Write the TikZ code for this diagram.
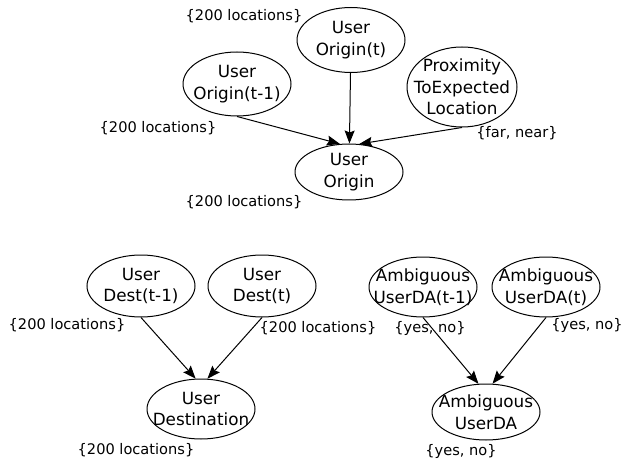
\documentclass[tikz,border=0pt]{standalone}
\usepackage{fontspec}
\setmainfont{DejaVu Sans}
\usetikzlibrary{shapes.geometric, arrows.meta}

\begin{document}
\begin{tikzpicture}[x=1pt, y=-1pt,
    var/.style={ellipse, draw, line width=1pt, inner sep=0pt, minimum width=108pt, minimum height=62pt},
    every label/.style={align=center, inner sep=0pt, font=\fontsize{16.8}{21.5}\selectfont},
    dom/.style={inner sep=0pt, font=\fontsize{14.6}{16}\selectfont},
    dep/.style={line width=1pt, -{Stealth[length=13pt, width=10pt, inset=2pt]}}]
  \useasboundingbox (0, 0) rectangle (623, 462);

  % user origin
  \node[var, minimum height=65pt, label=center:{User\\Origin(t)}] (ot) at (351, 40) {};
  \node[var, minimum height=64pt, label=center:{User\\Origin(t-1)}] (otm) at (237, 84) {};
  \node[var, minimum width=110pt, minimum height=80pt, label=center:{Proximity\\ToExpected\\Location}] (prox) at (462, 87) {};
  \node[var, minimum height=56pt, label=center:{User\\Origin}] (o) at (349, 172) {};
  \node[dom] (otd) at (244, 16) {\{200 locations\}};
  \node[dom] (otmd) at (158, 128) {\{200 locations\}};
  \node[dom] (proxd) at (517, 133) {\{far, near\}};
  \node[dom] (od) at (244, 202) {\{200 locations\}};
  \draw[dep] (ot) -- (o);
  \draw[dep] (otm.south) -- (o.108);
  \draw[dep] (prox.south) -- (o.70);

  % user destination
  \node[var, label=center:{User\\Dest(t-1)}] (dtm) at (141, 286) {};
  \node[var, label=center:{User\\Dest(t)}] (dt) at (262, 286) {};
  \node[var, minimum height=60pt, label=center:{User\\Destination}] (d) at (201, 409) {};
  \node[dom] (dtmd) at (67, 325) {\{200 locations\}};
  \node[dom] (dtd) at (318, 328) {\{200 locations\}};
  \node[dom] (dd) at (136, 450) {\{200 locations\}};
  \draw[dep] (dtm.south) -- (d.100);
  \draw[dep] (dt.south) -- (d.78);

  % ambiguous user dialogue act
  \node[var, minimum height=60pt, label=center:{Ambiguous\\UserDA(t-1)}] (atm) at (423, 287) {};
  \node[var, minimum height=60pt, label=center:{Ambiguous\\UserDA(t)}] (at) at (546, 287) {};
  \node[var, minimum height=56pt, label=center:{Ambiguous\\UserDA}] (a) at (486, 412) {};
  \node[dom] (atmd) at (430, 328) {\{yes, no\}};
  \node[dom] (atd) at (587, 325) {\{yes, no\}};
  \node[dom] (ad) at (461, 451) {\{yes, no\}};
  \draw[dep] (atm.south) -- (a.105);
  \draw[dep] (at.south) -- (a.77);
\end{tikzpicture}
\end{document}
